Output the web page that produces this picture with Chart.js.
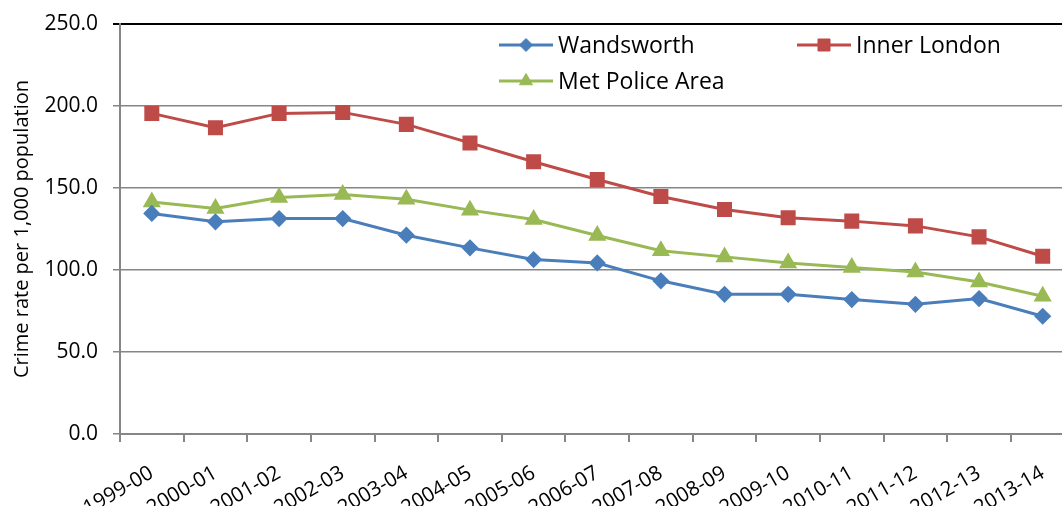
<!DOCTYPE html>
<html>
<head>
<meta charset="utf-8">
<script src="https://cdn.jsdelivr.net/npm/chart.js@4.4.1/dist/chart.umd.min.js"></script>
<style>
  html, body { margin: 0; padding: 0; background: #fff; overflow: hidden; }
  #wrap { position: relative; width: 1086px; height: 506px; }
</style>
</head>
<body>
<div id="wrap"><canvas id="chart" width="1086" height="506"></canvas></div>
<script>
// Financial years on the x axis
const years = ['1999-00','2000-01','2001-02','2002-03','2003-04','2004-05','2005-06',
  '2006-07','2007-08','2008-09','2009-10','2010-11','2011-12','2012-13','2013-14'];

// Crime rate per 1,000 population
const wandsworth = [134.5,129.4,131.4,131.4,121.2,113.5,106.4,104.3,93.4,85.2,85.2,82.0,79.1,82.6,71.8];
const innerLondon = [195.5,186.7,195.5,196.1,188.8,177.5,166.0,155.2,144.8,136.9,131.8,129.8,126.9,120.2,108.4];
const metPolice = [141.5,137.5,144.2,146.1,143.2,136.5,130.8,121.0,111.7,108.0,104.3,101.5,98.8,92.7,84.0];

const yTicks = [0, 50, 100, 150, 200, 250];

const FONT = '"Open Sans", Lato, sans-serif';

// Legend drawn inside the plot area, two columns
const insideLegend = {
  id: 'insideLegend',
  afterDraw(chart) {
    const ctx = chart.ctx;
    const slots = [
      { ds: 0, x: 499, y: 45 },
      { ds: 1, x: 797, y: 45 },
      { ds: 2, x: 499, y: 81 }
    ];
    ctx.save();
    ctx.font = '23px ' + FONT;
    ctx.textBaseline = 'middle';
    slots.forEach(s => {
      const ds = chart.data.datasets[s.ds];
      ctx.strokeStyle = ds.borderColor;
      ctx.lineWidth = 3;
      ctx.beginPath();
      ctx.moveTo(s.x, s.y);
      ctx.lineTo(s.x + 54, s.y);
      ctx.stroke();
      ctx.fillStyle = ds.backgroundColor;
      ctx.strokeStyle = ds.borderColor;
      ctx.lineWidth = 1;
      Chart.helpers.drawPoint(ctx, {
        pointStyle: ds.pointStyle,
        radius: ds.pointRadius,
        rotation: 0,
        borderWidth: 1
      }, s.x + 27, s.y);
      ctx.fillStyle = '#000';
      ctx.fillText(ds.label, s.x + 59, s.y + 1);
    });
    ctx.restore();
  }
};

Chart.defaults.font.family = FONT;
Chart.defaults.color = '#000';

function series(label, data, color, style, r) {
  return {
    label, data,
    borderColor: color,
    backgroundColor: color,
    pointBackgroundColor: color,
    pointBorderColor: color,
    borderWidth: 3,
    pointStyle: style,
    pointRadius: r,
    pointHoverRadius: r,
    tension: 0
  };
}

new Chart(document.getElementById('chart'), {
  type: 'line',
  data: {
    labels: years,
    datasets: [
      series('Wandsworth', wandsworth, '#4A7EBB', 'rectRot', 6.5),
      series('Inner London', innerLondon, '#BE4B48', 'rect', 8.5),
      series('Met Police Area', metPolice, '#98B954', 'triangle', 7.5)
    ]
  },
  options: {
    responsive: false,
    animation: false,
    layout: { padding: { top: 24, right: 0, left: 0, bottom: 0 } },
    plugins: {
      legend: { display: false },
      tooltip: { enabled: false }
    },
    scales: {
      x: {
        type: 'category',
        offset: true,
        grid: {
          offset: true,
          drawOnChartArea: false,
          drawTicks: true,
          tickLength: 8,
          color: '#868686',
          lineWidth: 2
        },
        border: { color: '#868686', width: 2 },
        ticks: {
          font: { size: 20.5 },
          minRotation: 30,
          maxRotation: 30,
          padding: 19,
          labelOffset: 0,
          autoSkip: false
        },
        afterFit(scale) {
          scale.height = 72;
          scale.paddingLeft = 0;
          scale.paddingRight = 0;
        }
      },
      y: {
        min: 0,
        max: 250,
        afterBuildTicks(scale) { scale.ticks = yTicks.map(v => ({ value: v })); },
        grid: {
          color: ctx => (ctx.tick && ctx.tick.value === 250) ? '#000' : '#868686',
          lineWidth: ctx => (ctx.tick && ctx.tick.value === 250) ? 2 : 1.5,
          tickLength: 7,
          drawTicks: true
        },
        border: { color: '#868686', width: 2 },
        ticks: {
          font: { size: 21 },
          padding: 15,
          callback: v => v.toFixed(1)
        },
        title: {
          display: true,
          text: 'Crime rate per 1,000 population',
          font: { size: 20 },
          padding: { top: 10, bottom: 0 }
        },
        afterFit(scale) {
          scale.width = 120;
          scale.paddingTop = 0;
          scale.paddingBottom = 0;
        }
      }
    }
  },
  plugins: [insideLegend]
});
</script>
</body>
</html>
